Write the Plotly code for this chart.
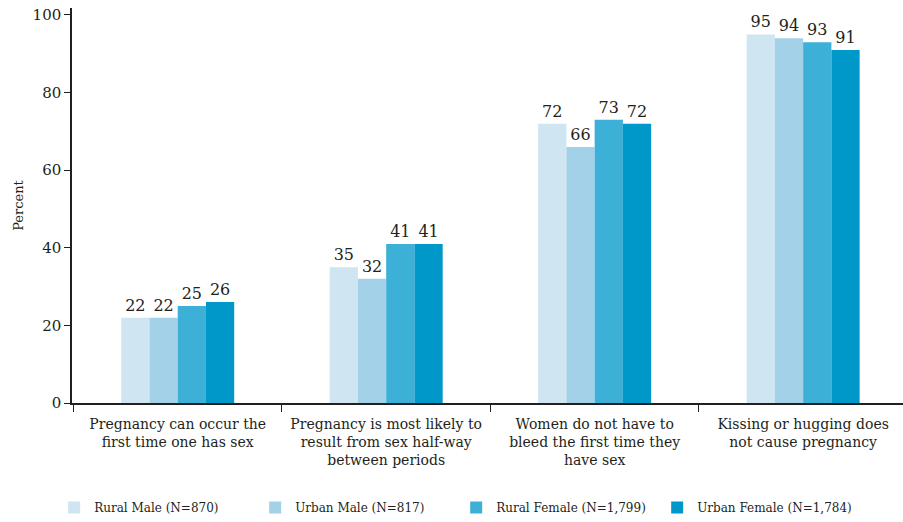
import plotly.graph_objects as go

categories = [
    "Pregnancy can occur the<br>first time one has sex",
    "Pregnancy is most likely to<br>result from sex half-way<br>between periods",
    "Women do not have to<br>bleed the first time they<br>have sex",
    "Kissing or hugging does<br>not cause pregnancy",
]
series_names = [
    "Rural Male (N=870)",
    "Urban Male (N=817)",
    "Rural Female (N=1,799)",
    "Urban Female (N=1,784)",
]
rural_male = [22, 35, 72, 95]
urban_male = [22, 32, 66, 94]
rural_female = [25, 41, 73, 93]
urban_female = [26, 41, 72, 91]
y_ticks = [0, 20, 40, 60, 80, 100]

colors = ["#cfe5f2", "#a2d1e8", "#3db0d8", "#0098c9"]
values = [rural_male, urban_male, rural_female, urban_female]

FONT = "DejaVu Serif"
TXT = "#231f20"

fig = go.Figure()
for name, vals, col in zip(series_names, values, colors):
    fig.add_trace(go.Bar(
        x=categories, y=vals, name=name,
        marker=dict(color=col, line=dict(width=0)),
        text=[str(v) for v in vals], textposition="outside",
        textfont=dict(family=FONT, size=16, color=TXT),
        cliponaxis=False,
    ))

fig.update_layout(
    width=903, height=522,
    paper_bgcolor="white", plot_bgcolor="white",
    margin=dict(l=72, r=0, t=8, b=119, autoexpand=False),
    barmode="group", bargap=0.458, bargroupgap=0,
    font=dict(family=FONT, size=14, color=TXT),
    showlegend=True,
    legend=dict(
        orientation="h", xref="container", yref="container",
        x=0.06, y=0.0, xanchor="left", yanchor="bottom",
        font=dict(family=FONT, size=12, color=TXT),
        entrywidth=156, entrywidthmode="pixels",
        itemwidth=30,
    ),
)
fig.update_yaxes(
    range=[0, 101.8], tickvals=y_ticks, ticks="outside", ticklen=6,
    tickcolor=TXT, showline=True, linecolor=TXT, linewidth=1.5,
    showgrid=False, zeroline=False, automargin=False,
    tickfont=dict(family=FONT, size=15, color=TXT),
    title=dict(text="Percent", font=dict(family=FONT, size=13, color=TXT), standoff=6),
)
fig.update_xaxes(
    range=[-0.507, 3.479],
    ticks="outside", tickson="boundaries", ticklen=7, tickcolor=TXT,
    showline=True, linecolor=TXT, linewidth=1.5, automargin=False,
    tickangle=0, ticklabelstandoff=7,
    tickfont=dict(family=FONT, size=14, color=TXT),
)

fig.write_html(
    "out.html",
    config={"displayModeBar": False},
    post_script="document.body.style.margin='0';",
)
